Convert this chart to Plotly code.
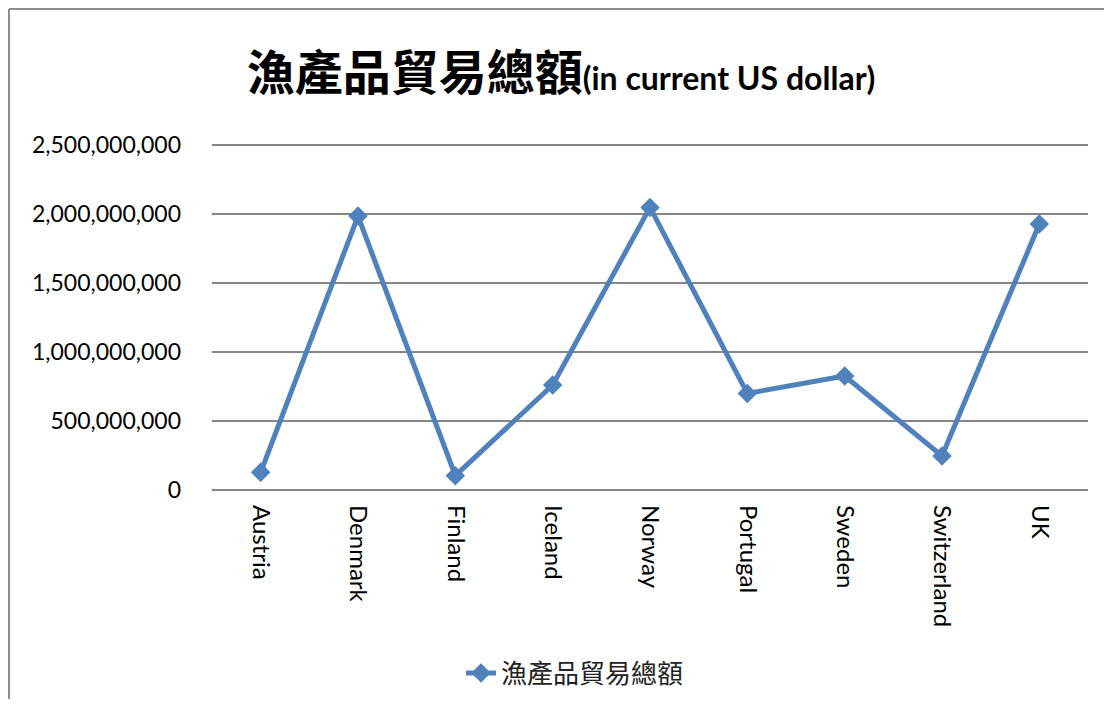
import plotly.graph_objects as go

countries = ["Austria", "Denmark", "Finland", "Iceland", "Norway", "Portugal", "Sweden", "Switzerland", "UK"]
trade_total = [128e6, 1985e6, 104e6, 761e6, 2048e6, 700e6, 826e6, 246e6, 1928e6]
y_ticks = [0, 500e6, 1000e6, 1500e6, 2000e6, 2500e6]
y_tick_labels = ["0", "500,000,000", "1,000,000,000", "1,500,000,000", "2,000,000,000", "2,500,000,000"]
series_name = "漁產品貿易總額"

OFF = 8  # page body margin
W, H = 1112 - 2 * OFF, 707 - 2 * OFF
# target page-pixel positions of the plot area
L, R, T, B = 212 - OFF, 1088 - OFF, 138 - OFF, 490 - OFF
Y_TOP = 2.5e9 * (B - T) / (B - (145 - OFF))

fig = go.Figure()
fig.add_trace(go.Scatter(
    x=countries, y=trade_total, name=series_name, mode="lines+markers",
    line=dict(color="#4F81BD", width=5),
    marker=dict(symbol="diamond", size=15, color="#4F81BD"),
    showlegend=True,
))

pw, ph = R - L, B - T
def px2paper_x(px):
    return (px - OFF - L) / pw
def px2paper_y(py):
    return (B - (py - OFF)) / ph

border = dict(color="#8C8C8C", width=2)
# left and top edges of the chart frame (the rest lies outside the window)
fig.add_shape(type="line", xref="paper", yref="paper",
              x0=px2paper_x(9), x1=px2paper_x(9), y0=px2paper_y(800), y1=px2paper_y(9),
              line=border, layer="below")
fig.add_shape(type="line", xref="paper", yref="paper",
              x0=px2paper_x(9), x1=px2paper_x(1300), y0=px2paper_y(9), y1=px2paper_y(9),
              line=border, layer="below")

font_latin = "Lato, 'Noto Sans CJK TC', sans-serif"
fig.update_layout(
    width=W, height=H,
    margin=dict(l=L, r=W - R, t=T, b=H - B),
    paper_bgcolor="white", plot_bgcolor="white",
    font=dict(family=font_latin, size=23, color="black"),
    title=dict(
        text="<b><span style='font-family:Noto Sans CJK TC'>漁產品貿易總額</span></b><b><span style='font-size:32px'>(in current US dollar)</span></b>",
        x=(561 - OFF) / W, xref="container", xanchor="center",
        y=1 - (73 - OFF) / H, yref="container", yanchor="middle",
        font=dict(size=48, color="black", family=font_latin),
    ),
    xaxis=dict(
        type="category", range=[-0.5, len(countries) - 0.5],
        tickangle=90, showgrid=False, showline=False, zeroline=False,
        ticks="", ticklabelstandoff=14,
        tickfont=dict(size=24, family=font_latin),
    ),
    yaxis=dict(
        range=[0, Y_TOP], tickvals=y_ticks, ticktext=y_tick_labels,
        showgrid=True, gridcolor="#868686", gridwidth=1.5,
        zeroline=True, zerolinecolor="#868686", zerolinewidth=1.5,
        showline=False, ticks="", ticklabelstandoff=30,
        tickfont=dict(size=23, family=font_latin),
    ),
    legend=dict(
        orientation="h", x=(575 - OFF) / W, xref="container", xanchor="center",
        y=1 - (673 - OFF) / H, yref="container", yanchor="middle",
        font=dict(size=26, family="'Noto Sans CJK TC', sans-serif", color="#222"),
        bgcolor="rgba(0,0,0,0)",
    ),
)

fig.write_html("out.html")
